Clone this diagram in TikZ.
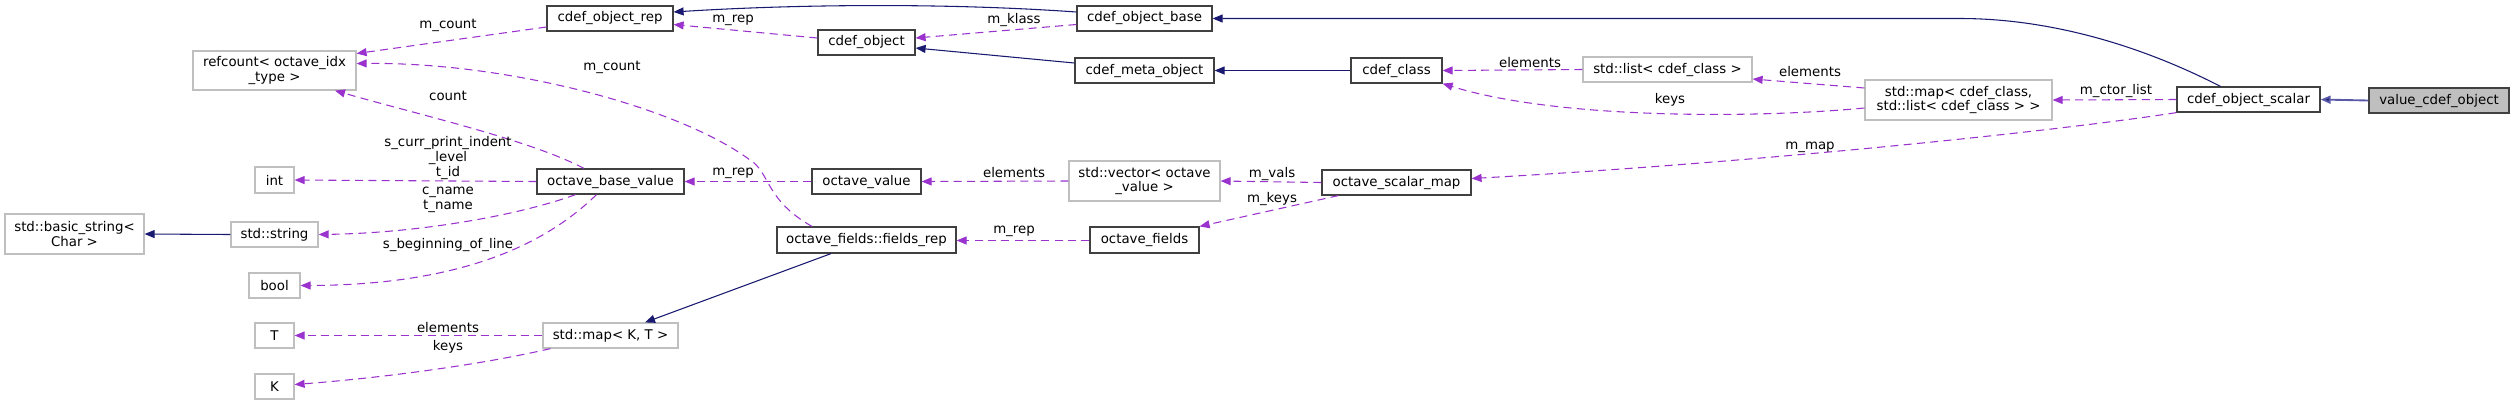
\documentclass[tikz,border=0pt]{standalone}
\usepackage{fontspec}
\setmainfont{DejaVu Sans}
\usetikzlibrary{arrows.meta,calc}
\definecolor{navyc}{HTML}{191970}
\definecolor{orchidc}{HTML}{9A32CD}
\definecolor{dborder}{HTML}{404040}
\definecolor{gborder}{HTML}{BFBFBF}
\definecolor{hfill}{HTML}{BFBFBF}
\definecolor{thickc}{HTML}{5A5AA8}
\begin{document}
\begin{tikzpicture}[x=0.75pt,y=-0.75pt,
  font=\fontsize{10pt}{11pt}\selectfont,
  sz/.style args={#1/#2}{minimum width={#1*0.75pt},minimum height={#2*0.75pt}},
  cls/.style={draw=dborder, line width=0.9pt, fill=white, inner sep=0pt, align=center},
  ext/.style={draw=gborder, line width=0.9pt, fill=white, inner sep=0pt, align=center},
  cur/.style={draw=dborder, line width=0.9pt, fill=hfill, inner sep=0pt, align=center},
  inh/.style={draw=navyc, line width=0.8pt, -{Triangle[length=7.5pt,width=6pt]}},
  use/.style={draw=orchidc, line width=0.8pt, dash pattern=on 6pt off 4pt, -{Triangle[length=7.5pt,width=6pt]}},
  lbl/.style={inner sep=0pt, align=center}
]
\useasboundingbox (0,0) rectangle (2515,405);
% nodes
\node[cls,sz=126/25] (rep) at (610,18.5) {cdef\_object\_rep};
\node[ext,sz=163/39] (refc) at (274.5,70.5) {refcount< octave\_idx\\\_type >};
\node[ext,sz=39/26] (int) at (274.5,180) {int};
\node[ext,sz=139/40] (bstr) at (74.5,234) {std::basic\_string<\\Char >};
\node[ext,sz=87/25] (str) at (274.5,234.5) {std::string};
\node[ext,sz=51/25] (bool) at (274.5,285.5) {bool};
\node[ext,sz=39/25] (T) at (274.5,335.5) {T};
\node[ext,sz=39/25] (K) at (274.5,386.5) {K};
\node[cls,sz=147/25] (obv) at (610.5,181.5) {octave\_base\_value};
\node[ext,sz=135/25] (mapKT) at (610.5,335.5) {std::map< K, T >};
\node[cls,sz=97/25] (cobj) at (866.5,42.5) {cdef\_object};
\node[cls,sz=109/25] (ov) at (866.5,181.5) {octave\_value};
\node[cls,sz=179/26] (frep) at (866.5,240) {octave\_fields::fields\_rep};
\node[cls,sz=135/25] (cbase) at (1144.5,18.5) {cdef\_object\_base};
\node[cls,sz=139/25] (cmeta) at (1144.5,70.5) {cdef\_meta\_object};
\node[ext,sz=151/40] (vec) at (1144.5,181) {std::vector< octave\\\_value >};
\node[cls,sz=109/26] (of) at (1144.5,240) {octave\_fields};
\node[cls,sz=91/25] (cclass) at (1396.5,70.5) {cdef\_class};
\node[cls,sz=149/25] (osm) at (1396.5,182.5) {octave\_scalar\_map};
\node[ext,sz=169/25] (list) at (1667.5,69.5) {std::list< cdef\_class >};
\node[ext,sz=187/40] (cmap) at (1958.5,100) {std::map< cdef\_class,\\ std::list< cdef\_class > >};
\node[cls,sz=143/25] (cos) at (2248.5,99.5) {cdef\_object\_scalar};
\node[cur,sz=140/25] (vco) at (2439,100.5) {value\_cdef\_object};
% edges
\draw[inh, draw=thickc, line width=1.4pt, -{Triangle[length=7.5pt,width=6pt,fill=navyc]}] (vco.west) -- (cos.east);
\draw[inh] ($(cos.north)+(-28,0)$) .. controls (2130,40) and (2040,18.5) .. (1960,18.5) -- (cbase.east);
\draw[use] (cos.west) -- (cmap.east);
\node[lbl] (l_ctor) at (2116,91) {m\_ctor\_list};
\draw[use] (cos.south west) .. controls (2050,132) and (1750,163) .. ($(osm.east)+(0,-4)$);
\node[lbl] (l_map) at (1810,147) {m\_map};
\draw[use] ($(cmap.west)+(0,-12)$) -- ($(list.east)+(0,9.5)$);
\node[lbl] (l_el1) at (1810,72) {elements};
\draw[use] ($(cmap.west)+(0,8)$) .. controls (1760,118) and (1560,120) .. (cclass.south east);
\node[lbl] (l_keys1) at (1670,100) {keys};
\draw[use] (list.west) -- (cclass.east);
\node[lbl] (l_el2) at (1530,63) {elements};
\draw[inh] (cclass.west) -- (cmeta.east);
\draw[inh] ($(cmeta.west)+(0,-7.5)$) -- ($(cobj.east)+(0,5.5)$);
\draw[use] ($(cbase.west)+(0,6)$) -- ($(cobj.east)+(0,-4.5)$);
\node[lbl] (l_klass) at (1014,20) {m\_klass};
\draw[inh] ($(cbase.west)+(0,-6.5)$) .. controls (950,3) and (800,4) .. ($(rep.east)+(0,-6.5)$);
\draw[use] ($(cobj.west)+(0,-4.5)$) -- ($(rep.east)+(0,6)$);
\node[lbl] (l_rep1) at (733,20) {m\_rep};
\draw[use] ($(rep.west)+(0,8.5)$) -- ($(refc.east)+(0,-17)$);
\node[lbl] (l_cnt1) at (448,25) {m\_count};
\draw[use] ($(frep.north)+(-54.5,0)$) .. controls (765,200) and (770,172) .. (750,160) .. controls (680,108) and (510,62) .. ($(refc.east)+(0,-7)$);
\node[lbl] (l_cnt2) at (612,67) {m\_count};
\draw[use] ($(obv.north)+(-26.5,0)$) .. controls (530,140) and (420,115) .. ($(refc.south)+(60.5,0)$);
\node[lbl] (l_cnt3) at (448,96) {count};
\draw[use] (obv.west) -- (int.east);
\node[lbl] (l_int) at (448,158) {s\_curr\_print\_indent\\\_level\\t\_id};
\draw[use] ($(obv.south)+(-35,0)$) .. controls (520,215) and (420,233) .. (str.east);
\node[lbl] (l_name) at (448,200) {c\_name\\t\_name};
\draw[use] ($(obv.south)+(-14,0)$) .. controls (540,250) and (450,285) .. (bool.east);
\node[lbl] (l_bol) at (448,245) {s\_beginning\_of\_line};
\draw[inh] (str.west) -- (bstr.east);
\draw[use] (ov.west) -- (obv.east);
\node[lbl] (l_rep2) at (733,173) {m\_rep};
\draw[use] (vec.west) -- (ov.east);
\node[lbl] (l_el3) at (1014,173) {elements};
\draw[use] (osm.west) -- (vec.east);
\node[lbl] (l_vals) at (1272,174) {m\_vals};
\draw[use] ($(osm.south west)+(17,0)$) -- (of.north east);
\node[lbl] (l_mkeys) at (1272,199) {m\_keys};
\draw[use] ($(of.west)+(0,0.5)$) -- ($(frep.east)+(0,0.5)$);
\node[lbl] (l_rep3) at (1014,231) {m\_rep};
\draw[inh] ($(frep.south)+(-35.5,0)$) -- ($(mapKT.north)+(34.5,0)$);
\draw[use] (mapKT.west) -- (T.east);
\node[lbl] (l_el4) at (448,328) {elements};
\draw[use] ($(mapKT.south west)+(8,0)$) .. controls (480,365) and (380,378) .. ($(K.east)+(0,-2)$);
\node[lbl] (l_keys2) at (448,347) {keys};
\end{tikzpicture}
\end{document}
